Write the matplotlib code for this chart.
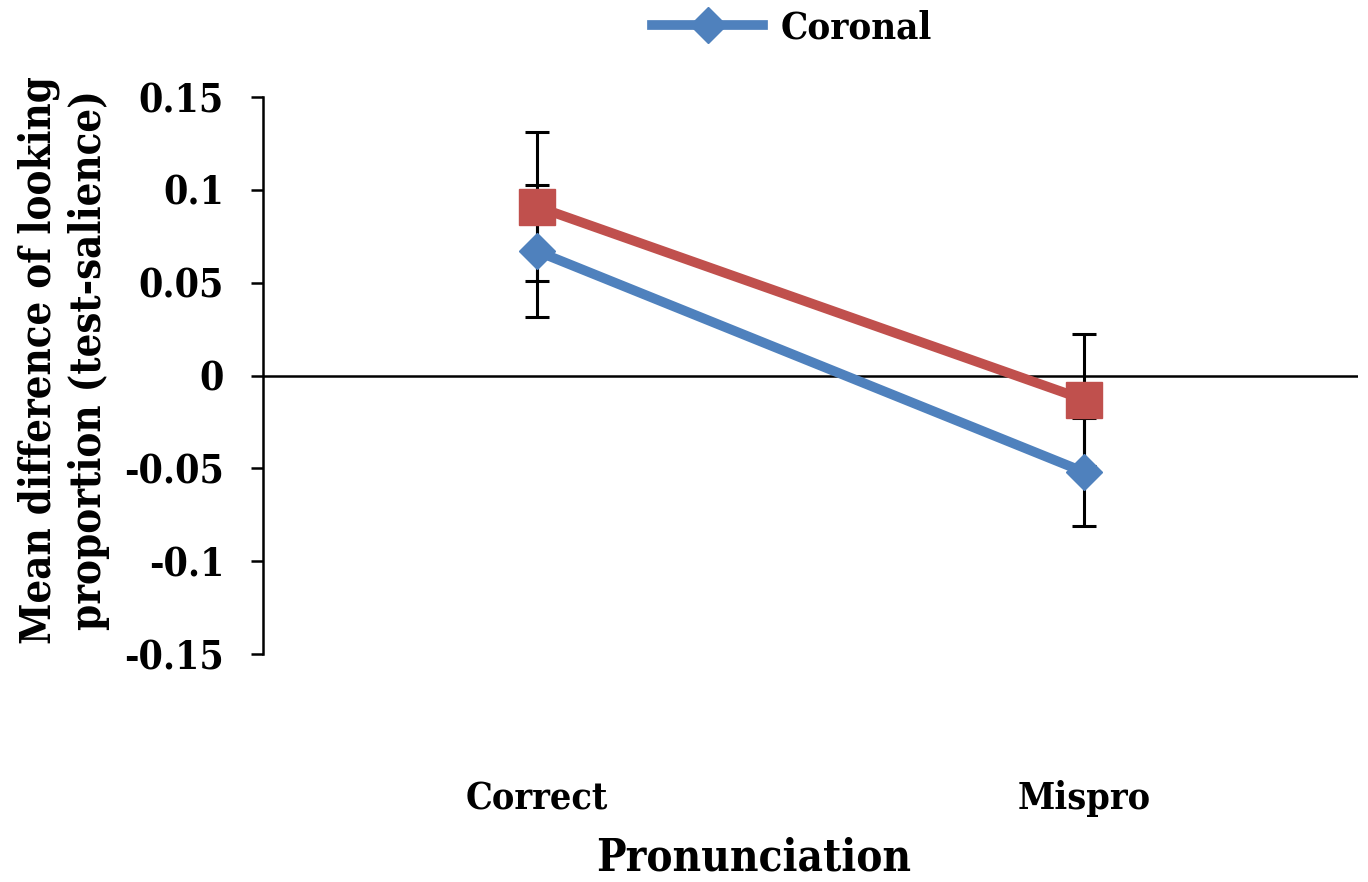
import matplotlib
matplotlib.use("Agg")
import matplotlib.pyplot as plt
from matplotlib.lines import Line2D

categories = ["Correct", "Mispro"]
coronal = [0.067, -0.052]
coronal_err = [0.0355, 0.029]
labial = [0.091, -0.013]
labial_err = [0.040, 0.0355]
yticks = [-0.15, -0.1, -0.05, 0, 0.05, 0.1, 0.15]
ytick_labels = ["-0.15", "-0.1", "-0.05", "0", "0.05", "0.1", "0.15"]

BLUE = "#4F81BD"
RED = "#C0504D"
FONT = "DejaVu Serif"

fig = plt.figure(figsize=(13.68, 8.82), dpi=100)
ax = fig.add_axes([263/1368, 1-654/882, (1358-263)/1368, (654-97)/882])

x = list(range(len(categories)))
ax.errorbar(x, coronal, yerr=coronal_err, fmt="none", ecolor="black",
            elinewidth=2.2, capsize=8.6, capthick=2.2, zorder=2)
ax.errorbar(x, labial, yerr=labial_err, fmt="none", ecolor="black",
            elinewidth=2.2, capsize=8.6, capthick=2.2, zorder=2)
ax.plot(x, labial, color=RED, lw=7, marker="s", ms=26, mec=RED, zorder=3)
ax.plot(x, coronal, color=BLUE, lw=7, marker="D", ms=18.5, mec=BLUE, zorder=4)

ax.axhline(0, color="black", lw=1.8, zorder=1)

ax.set_xlim(-0.5, 1.5)
ax.set_ylim(-0.15, 0.15)
ax.set_yticks(yticks)
ax.set_yticklabels(ytick_labels, fontfamily=FONT, fontweight="bold", fontsize=28,
                   fontstretch="condensed")
ax.set_xticks(x)
ax.set_xticklabels(categories, fontfamily=FONT, fontweight="bold", fontsize=27,
                   fontstretch="condensed")
ax.tick_params(axis="y", direction="out", length=9, width=1.8, pad=19)
ax.tick_params(axis="x", length=0, pad=91)

for s in ["top", "right", "bottom"]:
    ax.spines[s].set_visible(False)
ax.spines["left"].set_linewidth(1.8)

fig.text(754/1368, 1-858/882, "Pronunciation", ha="center", va="center",
         fontfamily=FONT, fontweight="bold", fontsize=31.5, fontstretch="condensed")
fig.text(64/1368, 1-360/882, "Mean difference of looking\nproportion (test-salience)",
         ha="center", va="center", rotation=90, linespacing=1.25,
         fontfamily=FONT, fontweight="bold", fontsize=30, fontstretch="condensed")

handle = Line2D([], [], color=BLUE, lw=7, marker="D", ms=18.5, mec=BLUE)
fig.legend([handle], ["Coronal"], loc="center", bbox_to_anchor=(792/1368, 1-28/882),
           frameon=False, handlelength=2.9, handletextpad=0.45,
           prop={"family": FONT, "weight": "bold", "size": 27.5, "stretch": "condensed"})

fig.savefig("out.png", dpi=100, facecolor="white")
